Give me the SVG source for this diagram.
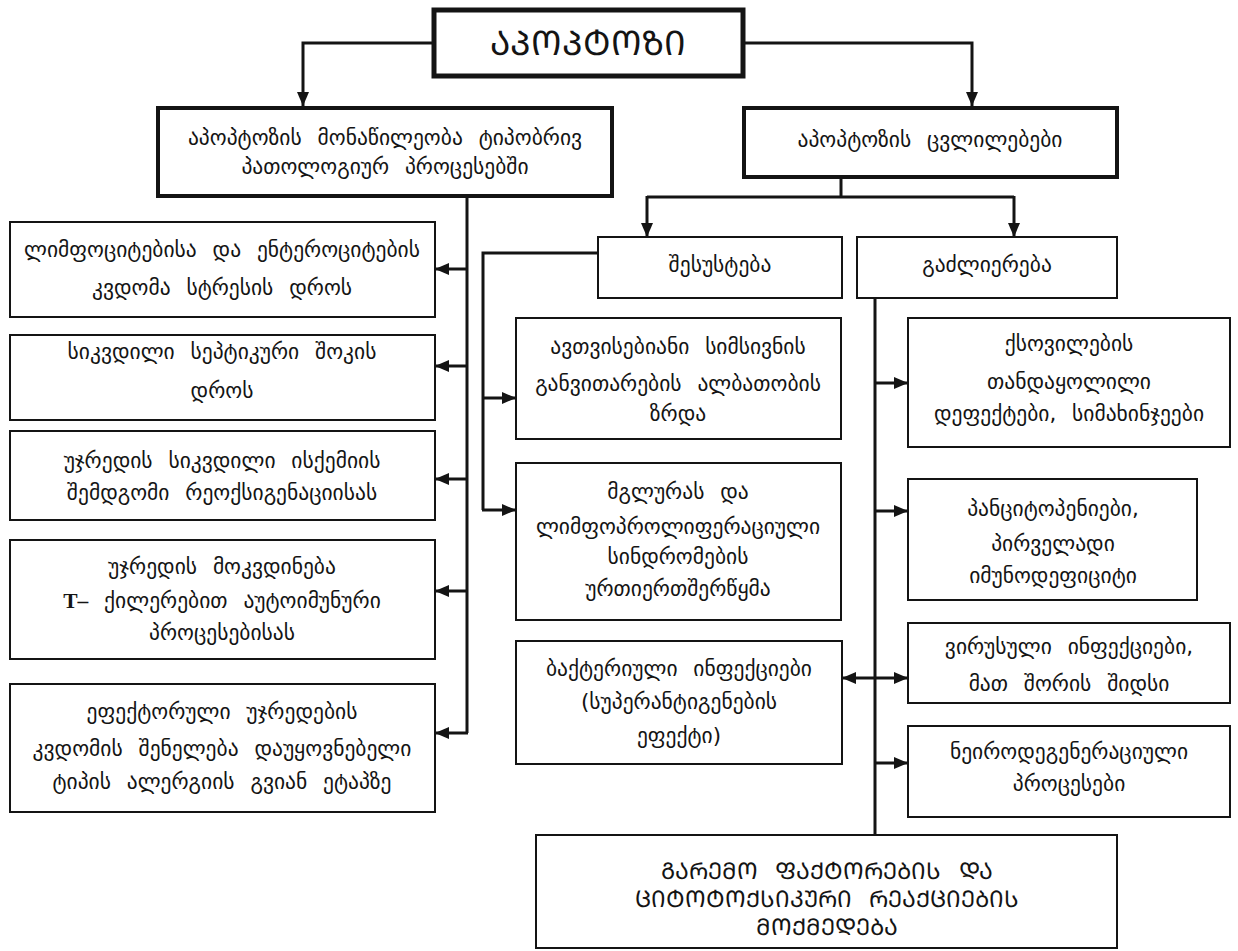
<svg xmlns="http://www.w3.org/2000/svg" width="1238" height="951" viewBox="0 0 1238 951">
<style>
.box{fill:#fff;stroke:#141414;stroke-width:2}
.b4{stroke-width:4}
.b5{stroke-width:5}
.t{font-family:"DejaVu Sans",sans-serif;font-size:21.5px;text-anchor:middle;fill:#141414;word-spacing:9px}
.tt{font-size:34px;word-spacing:0}
.tb{font-size:23px;word-spacing:10px}
.tm{font-family:"Liberation Serif",serif;font-weight:bold}
.c{stroke:#141414;stroke-width:3;fill:none}
</style>
<defs>
<marker id="ah" viewBox="0 0 14 12" refX="14" refY="6" markerWidth="14" markerHeight="12" markerUnits="userSpaceOnUse" orient="auto-start-reverse">
<path d="M0,0 L14,6 L0,12 z" fill="#141414"/>
</marker>
</defs>
<rect width="1238" height="951" fill="#fff"/>
<g id="connectors">
<path class="c" d="M432,43 H303 V106" marker-end="url(#ah)"/>
<path class="c" d="M745,43 H972 V106" marker-end="url(#ah)"/>
<path class="c" d="M467,197 V733"/>
<path class="c" d="M467,269 H435" marker-end="url(#ah)"/>
<path class="c" d="M467,366 H435" marker-end="url(#ah)"/>
<path class="c" d="M467,479 H435" marker-end="url(#ah)"/>
<path class="c" d="M467,591 H435" marker-end="url(#ah)"/>
<path class="c" d="M468,733 H435" marker-end="url(#ah)"/>
<path class="c" d="M841,177 V197"/>
<path class="c" d="M647,197 H1014"/>
<path class="c" d="M647,196 V237" marker-end="url(#ah)"/>
<path class="c" d="M1014,196 V237" marker-end="url(#ah)"/>
<path class="c" d="M598,253 H483 V510"/>
<path class="c" d="M483,398 H516" marker-end="url(#ah)"/>
<path class="c" d="M482,510 H516" marker-end="url(#ah)"/>
<path class="c" d="M875,298 V835"/>
<path class="c" d="M875,383 H908" marker-end="url(#ah)"/>
<path class="c" d="M875,511 H908" marker-end="url(#ah)"/>
<path class="c" d="M842,678 H908" marker-start="url(#ah)" marker-end="url(#ah)"/>
<path class="c" d="M875,763 H908" marker-end="url(#ah)"/>
</g>
<g id="n-title">
<rect class="box b5" x="434" y="10" width="309" height="66"/>
<text class="t tt" x="588" y="55">ᲐᲞᲝᲞᲢᲝᲖᲘ</text>
</g>
<g id="n-participation">
<rect class="box b4" x="158" y="108" width="454" height="88"/>
<text class="t" x="385" y="145">აპოპტოზის მონაწილეობა ტიპობრივ</text>
<text class="t" x="385" y="174">პათოლოგიურ პროცესებში</text>
</g>
<g id="n-changes">
<rect class="box b4" x="744" y="108" width="373" height="69"/>
<text class="t" x="930" y="147">აპოპტოზის ცვლილებები</text>
</g>
<g id="n-l1">
<rect class="box" x="10" y="222" width="425" height="95"/>
<text class="t" x="222" y="257">ლიმფოციტებისა და ენტეროციტების</text>
<text class="t" x="222" y="295">კვდომა სტრესის დროს</text>
</g>
<g id="n-l2">
<rect class="box" x="10" y="335" width="425" height="85"/>
<text class="t" x="222" y="359">სიკვდილი სეპტიკური შოკის</text>
<text class="t" x="222" y="398">დროს</text>
</g>
<g id="n-l3">
<rect class="box" x="10" y="431" width="425" height="89"/>
<text class="t" x="222" y="468">უჯრედის სიკვდილი ისქემიის</text>
<text class="t" x="222" y="500">შემდგომი რეოქსიგენაციისას</text>
</g>
<g id="n-l4">
<rect class="box" x="10" y="540" width="425" height="119"/>
<text class="t" x="222" y="574">უჯრედის მოკვდინება</text>
<text class="t" x="222" y="608"><tspan class="tm">T–</tspan> ქილერებით აუტოიმუნური</text>
<text class="t" x="222" y="640">პროცესებისას</text>
</g>
<g id="n-l5">
<rect class="box" x="10" y="684" width="425" height="128"/>
<text class="t" x="222" y="719">ეფექტორული უჯრედების</text>
<text class="t" x="222" y="756">კვდომის შენელება დაუყოვნებელი</text>
<text class="t" x="222" y="789">ტიპის ალერგიის გვიან ეტაპზე</text>
</g>
<g id="n-weak">
<rect class="box" x="598" y="237" width="244" height="61"/>
<text class="t" x="720" y="272">შესუსტება</text>
</g>
<g id="n-strong">
<rect class="box" x="857" y="237" width="260" height="61"/>
<text class="t" x="987" y="272">გაძლიერება</text>
</g>
<g id="n-m1">
<rect class="box" x="516" y="318" width="325" height="121"/>
<text class="t" x="678" y="354">ავთვისებიანი სიმსივნის</text>
<text class="t" x="678" y="391">განვითარების ალბათობის</text>
<text class="t" x="678" y="421">ზრდა</text>
</g>
<g id="n-m2">
<rect class="box" x="516" y="463" width="325" height="157"/>
<text class="t" x="678" y="499">მგლურას და</text>
<text class="t" x="678" y="534">ლიმფოპროლიფერაციული</text>
<text class="t" x="678" y="564">სინდრომების</text>
<text class="t" x="678" y="596">ურთიერთშერწყმა</text>
</g>
<g id="n-m3">
<rect class="box" x="516" y="641" width="326" height="123"/>
<text class="t" x="679" y="676">ბაქტერიული ინფექციები</text>
<text class="t" x="679" y="709">(სუპერანტიგენების</text>
<text class="t" x="679" y="743">ეფექტი)</text>
</g>
<g id="n-r1">
<rect class="box" x="908" y="318" width="322" height="129"/>
<text class="t" x="1069" y="351">ქსოვილების</text>
<text class="t" x="1069" y="389">თანდაყოლილი</text>
<text class="t" x="1069" y="421">დეფექტები, სიმახინჯეები</text>
</g>
<g id="n-r2">
<rect class="box" x="908" y="479" width="289" height="121"/>
<text class="t" x="1053" y="516">პანციტოპენიები,</text>
<text class="t" x="1053" y="551">პირველადი</text>
<text class="t" x="1053" y="583">იმუნოდეფიციტი</text>
</g>
<g id="n-r3">
<rect class="box" x="908" y="623" width="322" height="80"/>
<text class="t" x="1069" y="654">ვირუსული ინფექციები,</text>
<text class="t" x="1069" y="691">მათ შორის შიდსი</text>
</g>
<g id="n-r4">
<rect class="box" x="908" y="726" width="322" height="91"/>
<text class="t" x="1069" y="759">ნეიროდეგენერაციული</text>
<text class="t" x="1069" y="791">პროცესები</text>
</g>
<g id="n-bottom">
<rect class="box" x="536" y="835" width="581" height="113"/>
<text class="t tb" x="827" y="879">ᲒᲐᲠᲔᲛᲝ ᲤᲐᲥᲢᲝᲠᲔᲑᲘᲡ ᲓᲐ</text>
<text class="t tb" x="827" y="907">ᲪᲘᲢᲝᲢᲝᲥᲡᲘᲙᲣᲠᲘ ᲠᲔᲐᲥᲪᲘᲔᲑᲘᲡ</text>
<text class="t tb" x="827" y="935">ᲛᲝᲥᲛᲔᲓᲔᲑᲐ</text>
</g>
</svg>
